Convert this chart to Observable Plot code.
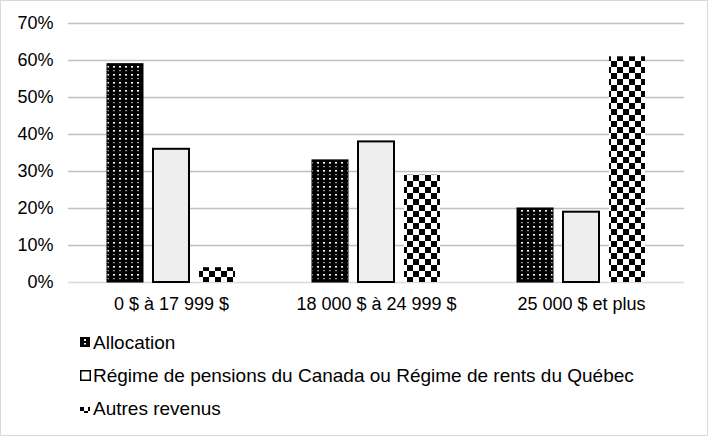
<!DOCTYPE html>
<html><head><meta charset="utf-8">
<script src="https://cdn.jsdelivr.net/npm/d3@7"></script>
<script src="https://cdn.jsdelivr.net/npm/@observablehq/plot@0.6"></script>
<style>
body{margin:0;background:#fff;font-family:"Liberation Sans",Arial,sans-serif;}
#wrap{width:706px;height:434px;border:1px solid #d9d9d9;position:relative;overflow:hidden;background:#fff;}
#legend{position:absolute;left:79px;top:325px;font-size:19px;color:#000;}
.item{height:33px;line-height:22px;display:flex;align-items:center;}
.item svg{margin-right:2px;}
</style></head>
<body>
<svg width="0" height="0" style="position:absolute">
<defs>
<pattern id="dots" width="6" height="8" patternUnits="userSpaceOnUse">
<rect width="6" height="8" fill="#000"/>
<rect x="2" y="1" width="2" height="1.6" fill="#fff"/>
<rect x="2.3" y="5.2" width="1.4" height="1" fill="#fff"/>
</pattern>
<pattern id="checker" width="12" height="12" patternUnits="userSpaceOnUse">
<rect width="12" height="12" fill="#fff"/>
<rect x="0" y="0" width="6" height="6" fill="#000"/>
<rect x="6" y="6" width="6" height="6" fill="#000"/>
</pattern>
<pattern id="checkerSmall" width="8" height="8" patternUnits="userSpaceOnUse">
<rect width="8" height="8" fill="#fff"/>
<rect x="0" y="4" width="4" height="4" fill="#000"/>
<rect x="4" y="0" width="4" height="2" fill="#000"/>
</pattern>
</defs>
</svg>
<div id="wrap"><div id="chart"></div><div id="legend"></div></div>
<script>
const groups = ["0 $ à 17 999 $", "18 000 $ à 24 999 $", "25 000 $ et plus"];
const series = ["Allocation", "Régime de pensions du Canada ou Régime de rents du Québec", "Autres revenus"];
const allocation = [59, 33, 20];
const rrq = [36, 38, 19];
const autres = [4, 29, 61];
const yTicks = [0, 10, 20, 30, 40, 50, 60, 70];

const fills = ["url(#dots)", "#eeeeee", "url(#checker)"];
const strokes = ["#000", "#000", "none"];
const offsets = [-46, 0, 46];
const values = [allocation, rrq, autres];

const marks = [
  Plot.ruleY(yTicks.filter(d => d > 0), {stroke: "#bfbfbf", strokeWidth: 1.3}),
  Plot.ruleY([0], {stroke: "#d9d9d9", strokeWidth: 1.3})
];
series.forEach((s, i) => {
  const data = groups.map((g, j) => ({group: g, value: values[i][j]}));
  marks.push(Plot.barY(data, {
    x: "group", y: "value", dx: offsets[i],
    fill: fills[i], stroke: strokes[i], strokeWidth: i === 1 ? 2 : 1,
    inset: 0
  }));
});

const chart = Plot.plot({
  width: 706, height: 322,
  marginTop: 22, marginBottom: 41, marginLeft: 67, marginRight: 23,
  style: {fontFamily: '"Liberation Sans", Arial, sans-serif', fontSize: "18px", color: "#000", background: "#fff"},
  x: {domain: groups, paddingInner: 0.824, paddingOuter: 0.412, label: null, tickSize: 0, tickPadding: 15},
  y: {domain: [0, 70], ticks: yTicks, tickFormat: d => d + "%", label: null, tickSize: 0, tickPadding: 15},
  marks
});
document.getElementById("chart").appendChild(chart);

const legend = document.getElementById("legend");
series.forEach((s, i) => {
  const div = document.createElement("div");
  div.className = "item";
  const sw = i === 1
    ? `<svg width="11" height="11"><rect x="0.75" y="0.75" width="9.5" height="9.5" fill="#fff" stroke="#000" stroke-width="1.5"/></svg>`
    : i === 0
    ? `<svg width="11" height="11"><rect x="0" y="0" width="10" height="10" fill="#000"/><rect x="4" y="2" width="2" height="2" fill="#fff"/><rect x="4" y="6" width="2" height="1.5" fill="#fff"/></svg>`
    : `<svg width="11" height="11"><rect x="0" y="2" width="10" height="8" fill="url(#checkerSmall)"/></svg>`;
  div.innerHTML = sw + `<span>${s}</span>`;
  legend.appendChild(div);
});
</script>
</body></html>
